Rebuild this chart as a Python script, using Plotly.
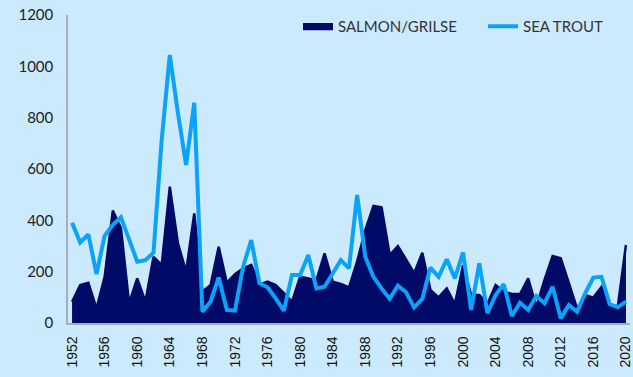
import plotly.graph_objects as go

years = list(range(1952, 2021))

salmon_grilse = [
    83, 148, 157, 57, 180, 438, 370, 77, 174, 83,
    258, 226, 531, 310, 200, 427, 122, 148, 297, 157,
    190, 213, 226, 150, 161, 148, 116, 83, 180, 174,
    167, 271, 161, 152, 139, 240, 362, 456, 451, 265,
    300, 248, 194, 274, 129, 100, 135, 74, 225, 109,
    109, 75, 148, 122, 113, 113, 174, 64, 168, 261,
    252, 155, 57, 109, 99, 141, 74, 64, 304,
]

sea_trout = [
    391, 314, 345, 191, 340, 382, 412, 323, 239, 245,
    274, 713, 1044, 817, 616, 858, 44, 83, 177, 51,
    48, 219, 323, 155, 139, 96, 48, 187, 187, 265,
    135, 141, 194, 245, 213, 499, 258, 180, 135, 94,
    145, 120, 61, 94, 216, 180, 248, 174, 275, 51,
    233, 38, 109, 151, 27, 79, 51, 105, 77, 141,
    18, 70, 44, 116, 177, 180, 74, 61, 83,
]

x_ticks = list(range(1952, 2021, 4))
y_ticks = [0, 200, 400, 600, 800, 1000, 1200]

NAVY = "#020A68"
BRIGHT = "#0AA3F7"
BG = "#CCEAFD"

fig = go.Figure()

fig.add_trace(go.Scatter(
    x=years, y=salmon_grilse, name="SALMON/GRILSE",
    mode="lines", fill="tozeroy",
    line=dict(color=NAVY, width=2.5),
    fillcolor=NAVY,
))

fig.add_trace(go.Scatter(
    x=years, y=sea_trout, name="SEA TROUT",
    mode="lines",
    line=dict(color=BRIGHT, width=4),
))

fig.update_layout(
    width=633, height=377,
    margin=dict(l=68, r=3, t=15, b=54, autoexpand=False),
    paper_bgcolor=BG, plot_bgcolor=BG,
    font=dict(family="Lato, 'Liberation Sans', Arial, sans-serif", size=15, color="#222222"),
    showlegend=True,
    legend=dict(
        orientation="h",
        x=(298 - 68) / 562, xanchor="left",
        yref="container", y=1 - 10 / 377, yanchor="top",
        bgcolor="rgba(0,0,0,0)",
        font=dict(size=15, color="#333333"),
        entrywidth=140, entrywidthmode="pixels",
        traceorder="normal",
    ),
    xaxis=dict(
        range=[1951.5, 2020.5],
        tickmode="array", tickvals=x_ticks,
        ticktext=[str(t) for t in x_ticks],
        tickangle=-90,
        tickfont=dict(family="'Liberation Sans', Arial, sans-serif", size=14, color="#111111"),
        showgrid=False, zeroline=False,
        showline=True, linecolor="#A6AEB6", linewidth=1.5,
        ticks="", ticklabelstandoff=6,
        ticklabeloverflow="allow",
    ),
    yaxis=dict(
        range=[0, 1200],
        tickmode="array", tickvals=y_ticks,
        tickfont=dict(size=15, color="#222222"),
        showgrid=False, zeroline=False,
        showline=True, linecolor="#A6AEB6", linewidth=1.5,
        ticks="", ticklabelstandoff=10,
    ),
)

fig.write_html("out.html")
